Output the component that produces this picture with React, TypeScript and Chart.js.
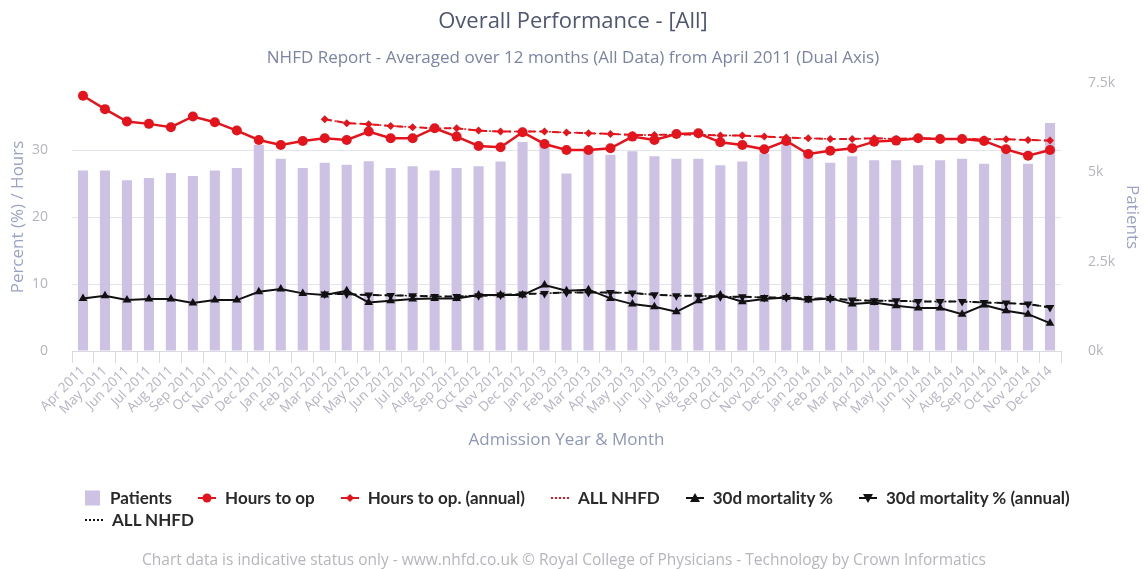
import React, { useEffect, useRef } from "react";
import { Chart, registerables } from "chart.js";

Chart.register(...registerables);

const FONT = "'Open Sans', 'Noto Sans', sans-serif";
const LEGEND_FONT = "Lato, 'Open Sans', sans-serif";

const months: string[] = [
  "Apr 2011", "May 2011", "Jun 2011", "Jul 2011", "Aug 2011", "Sep 2011", "Oct 2011", "Nov 2011", "Dec 2011",
  "Jan 2012", "Feb 2012", "Mar 2012", "Apr 2012", "May 2012", "Jun 2012", "Jul 2012", "Aug 2012", "Sep 2012",
  "Oct 2012", "Nov 2012", "Dec 2012", "Jan 2013", "Feb 2013", "Mar 2013", "Apr 2013", "May 2013", "Jun 2013",
  "Jul 2013", "Aug 2013", "Sep 2013", "Oct 2013", "Nov 2013", "Dec 2013", "Jan 2014", "Feb 2014", "Mar 2014",
  "Apr 2014", "May 2014", "Jun 2014", "Jul 2014", "Aug 2014", "Sep 2014", "Oct 2014", "Nov 2014", "Dec 2014",
];

const patients: number[] = [
  5050, 5050, 4780, 4840, 4980, 4900, 5050, 5120, 5770,
  5380, 5120, 5270, 5210, 5310, 5120, 5170, 5050, 5120,
  5170, 5300, 5850, 5810, 4970, 5640, 5490, 5590, 5450,
  5380, 5380, 5200, 5300, 5530, 5780, 5600, 5270, 5450,
  5340, 5340, 5200, 5340, 5380, 5240, 5530, 5240, 6380,
];

const hoursToOp: number[] = [
  38.1, 36.1, 34.25, 33.9, 33.4, 35.0, 34.15, 32.9, 31.5,
  30.75, 31.35, 31.75, 31.5, 32.75, 31.75, 31.75, 33.25, 32.0,
  30.6, 30.4, 32.65, 30.9, 30.0, 30.0, 30.25, 32.0, 31.5,
  32.4, 32.5, 31.15, 30.75, 30.1, 31.35, 29.4, 29.9, 30.25,
  31.25, 31.4, 31.75, 31.65, 31.65, 31.35, 30.1, 29.15, 30.0,
];

const hoursToOpAnnual: (number | null)[] = [
  null, null, null, null, null, null, null, null, null,
  null, null, 34.6, 34.0, 33.85, 33.6, 33.4, 33.25, 33.25,
  32.9, 32.75, 32.75, 32.75, 32.6, 32.5, 32.4, 32.25, 32.25,
  32.3, 32.3, 32.15, 32.15, 32.0, 31.85, 31.75, 31.65, 31.65,
  31.75, 31.65, 31.75, 31.65, 31.65, 31.6, 31.6, 31.5, 31.4,
];

const allNhfdHours: (number | null)[] = hoursToOpAnnual;

const mortality: number[] = [
  7.85, 8.25, 7.6, 7.75, 7.75, 7.15, 7.6, 7.6, 8.85,
  9.25, 8.6, 8.35, 9.0, 7.25, 7.5, 7.75, 7.85, 7.85,
  8.35, 8.35, 8.35, 9.85, 9.0, 9.15, 7.85, 7.0, 6.6,
  5.85, 7.5, 8.35, 7.35, 7.75, 8.0, 7.6, 7.85, 7.0,
  7.25, 6.75, 6.4, 6.4, 5.5, 6.85, 6.0, 5.5, 4.15,
];

const mortalityAnnual: (number | null)[] = [
  null, null, null, null, null, null, null, null, null,
  null, null, 8.5, 8.5, 8.35, 8.3, 8.25, 8.15, 8.15,
  8.25, 8.35, 8.5, 8.6, 8.75, 8.75, 8.75, 8.65, 8.4,
  8.25, 8.25, 8.1, 8.1, 8.0, 8.0, 7.85, 7.85, 7.6,
  7.5, 7.5, 7.4, 7.4, 7.4, 7.25, 7.15, 7.0, 6.5,
];

const allNhfdMortality: (number | null)[] = mortalityAnnual;

const leftTicks: number[] = [0, 10, 20, 30];
const rightTickLabels: string[] = ["0k", "2.5k", "5k", "7.5k"];

const BAR = "#cdc2e3";
const RED = "#e3141c";
const BLACK = "#111111";

type LegendItem = { label: string; kind: "box" | "line"; color: string; dash?: string; marker?: string };

const legendItems: LegendItem[] = [
  { label: "Patients", kind: "box", color: BAR },
  { label: "Hours to op", kind: "line", color: RED, marker: "circle" },
  { label: "Hours to op. (annual)", kind: "line", color: RED, marker: "diamond" },
  { label: "ALL NHFD", kind: "line", color: RED, dash: "2,2" },
  { label: "30d mortality %", kind: "line", color: BLACK, marker: "triangle" },
  { label: "30d mortality % (annual)", kind: "line", color: BLACK, marker: "triangleDown" },
  { label: "ALL NHFD", kind: "line", color: BLACK, dash: "2,2" },
];

function LegendSymbol({ item }: { item: LegendItem }) {
  if (item.kind === "box") {
    return (
      <svg width={16} height={16} style={{ display: "block" }}>
        <rect x={0} y={0.5} width={15} height={15} fill={item.color} />
      </svg>
    );
  }
  let marker: React.ReactNode = null;
  if (item.marker === "circle") marker = <circle cx={9} cy={7} r={4.5} fill={item.color} />;
  if (item.marker === "diamond") marker = <polygon points="9,3 13,7 9,11 5,7" fill={item.color} />;
  if (item.marker === "triangle") marker = <polygon points="9,2 14,11 4,11" fill={item.color} />;
  if (item.marker === "triangleDown") marker = <polygon points="4,3 14,3 9,12" fill={item.color} />;
  return (
    <svg width={18} height={14} style={{ display: "block" }}>
      <line x1={0} y1={7} x2={18} y2={7} stroke={item.color} strokeWidth={2} strokeDasharray={item.dash} />
      {marker}
    </svg>
  );
}

export default function App() {
  const canvasRef = useRef<HTMLCanvasElement | null>(null);

  useEffect(() => {
    const canvas = canvasRef.current;
    if (!canvas) return;
    const chart = new Chart(canvas, {
      type: "bar",
      data: {
        labels: months,
        datasets: [
          {
            type: "line",
            label: "Hours to op",
            data: hoursToOp,
            yAxisID: "y",
            borderColor: RED,
            backgroundColor: RED,
            borderWidth: 2.5,
            pointStyle: "circle",
            pointRadius: 5,
            pointBorderWidth: 0,
            order: 2,
          },
          {
            type: "line",
            label: "Hours to op. (annual)",
            data: hoursToOpAnnual,
            yAxisID: "y",
            borderColor: RED,
            backgroundColor: RED,
            borderWidth: 2,
            borderDash: [7, 5],
            pointStyle: "rectRot",
            pointRadius: 4,
            pointBorderWidth: 0,
            order: 3,
          },
          {
            type: "line",
            label: "ALL NHFD",
            data: allNhfdHours,
            yAxisID: "y",
            borderColor: RED,
            borderWidth: 1.5,
            borderDash: [2, 3],
            pointRadius: 0,
            order: 4,
          },
          {
            type: "line",
            label: "30d mortality %",
            data: mortality,
            yAxisID: "y",
            borderColor: BLACK,
            backgroundColor: BLACK,
            borderWidth: 2,
            pointStyle: "triangle",
            pointRadius: 5,
            pointBorderWidth: 0,
            order: 2,
          },
          {
            type: "line",
            label: "30d mortality % (annual)",
            data: mortalityAnnual,
            yAxisID: "y",
            borderColor: BLACK,
            backgroundColor: BLACK,
            borderWidth: 2,
            borderDash: [7, 5],
            pointStyle: "triangle",
            rotation: 180,
            pointRadius: 5,
            pointBorderWidth: 0,
            order: 3,
          },
          {
            type: "line",
            label: "ALL NHFD",
            data: allNhfdMortality,
            yAxisID: "y",
            borderColor: BLACK,
            borderWidth: 1.5,
            borderDash: [2, 3],
            pointRadius: 0,
            order: 4,
          },
          {
            type: "bar",
            label: "Patients",
            data: patients,
            yAxisID: "y1",
            backgroundColor: BAR,
            borderWidth: 0,
            barPercentage: 0.46,
            categoryPercentage: 1,
            order: 10,
          },
        ],
      },
      options: {
        responsive: false,
        animation: false,
        events: [],
        layout: { padding: { left: 0, right: 0, top: 0, bottom: 114 } },
        plugins: {
          legend: { display: false },
          tooltip: { enabled: false },
          title: {
            display: true,
            text: "Overall Performance - [All]",
            color: "#4f5670",
            font: { family: FONT, size: 22, weight: "normal" },
            padding: { top: 9, bottom: 12.4 },
          },
          subtitle: {
            display: true,
            text: "NHFD Report - Averaged over 12 months (All Data) from April 2011 (Dual Axis)",
            color: "#7c84a3",
            font: { family: FONT, size: 17, weight: "normal" },
            padding: { top: 0, bottom: 14.8 },
          },
        },
        scales: {
          x: {
            type: "category",
            offset: true,
            grid: { offset: true, drawOnChartArea: false, color: "#dadae2", tickLength: 12 },
            border: { display: true, color: "#dadae2" },
            ticks: {
              autoSkip: false,
              maxRotation: 45,
              minRotation: 45,
              color: "#b4b4c4",
              font: { family: FONT, size: 13.5 },
              padding: 0,
            },
            title: {
              display: true,
              text: "Admission Year & Month",
              color: "#8e97b7",
              font: { family: FONT, size: 17 },
              padding: { top: 0, bottom: 5 },
            },
            afterFit: (s: any) => {
              s.height = 104;
            },
          },
          y: {
            type: "linear",
            position: "left",
            min: 0,
            max: 40,
            afterBuildTicks: (s: any) => {
              s.ticks = [...leftTicks, 40].map((v) => ({ value: v }));
            },
            ticks: {
              color: "#b4b4bc",
              font: { family: FONT, size: 14 },
              padding: 24,
              callback: (v: any) => (leftTicks.includes(Number(v)) ? String(v) : ""),
            },
            grid: {
              color: (ctx: any) => (ctx.tick && ctx.tick.value === 40 ? "rgba(0,0,0,0)" : "#e4e4ec"),
              drawTicks: false,
            },
            border: { display: false },
            title: {
              display: true,
              text: "Percent (%) / Hours",
              color: "#9aa3c3",
              font: { family: FONT, size: 17 },
              padding: { top: 8, bottom: 0 },
            },
            afterFit: (s: any) => {
              s.width = 72;
            },
          },
          y1: {
            type: "linear",
            position: "right",
            min: 0,
            max: 7500,
            afterBuildTicks: (s: any) => {
              s.ticks = rightTickLabels.map((_, i) => ({ value: i * 2500 }));
            },
            ticks: {
              color: "#b4b4bc",
              font: { family: FONT, size: 14 },
              padding: 27,
              callback: (_v: any, i: number) => rightTickLabels[i],
            },
            grid: { drawOnChartArea: false, drawTicks: false },
            border: { display: false },
            title: {
              display: true,
              text: "Patients",
              color: "#9aa3c3",
              font: { family: FONT, size: 17 },
              padding: { top: 4, bottom: 0 },
            },
            afterFit: (s: any) => {
              s.width = 85;
            },
          },
        },
      } as any,
    });
    return () => chart.destroy();
  }, []);

  return (
    <div style={{ position: "absolute", left: 0, top: 0, width: 1146, height: 569, background: "#fff" }}>
      <canvas ref={canvasRef} width={1146} height={569} style={{ display: "block" }} />
      <div
        style={{
          position: "absolute",
          left: 85,
          top: 488,
          width: 1020,
          display: "flex",
          flexWrap: "wrap",
          columnGap: 26,
          rowGap: 2,
          fontFamily: LEGEND_FONT,
          fontWeight: 700,
          fontSize: 17,
          color: "#2a2a2a",
        }}
      >
        {legendItems.map((item, i) => (
          <div key={i} style={{ display: "flex", alignItems: "center", gap: 9, height: 20, lineHeight: "20px" }}>
            <LegendSymbol item={item} />
            <span>{item.label}</span>
          </div>
        ))}
      </div>
      <div
        style={{
          position: "absolute",
          left: 0,
          top: 548,
          width: 1128,
          textAlign: "center",
          fontFamily: FONT,
          fontSize: 15.5,
          color: "#b5b5bd",
        }}
      >
        Chart data is indicative status only - www.nhfd.co.uk © Royal College of Physicians - Technology by Crown Informatics
      </div>
    </div>
  );
}
